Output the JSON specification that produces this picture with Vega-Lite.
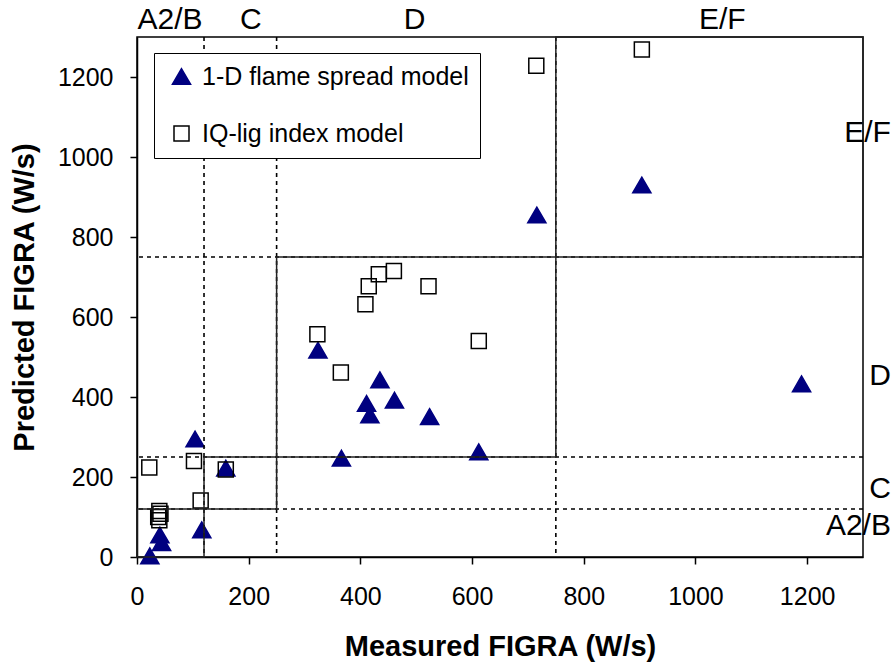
{
  "$schema": "https://vega.github.io/schema/vega-lite/v6.json",
  "width": 726,
  "height": 520,
  "autosize": {"type": "none"},
  "padding": {"left": 137, "top": 37, "right": 31, "bottom": 106},
  "config": {
    "font": "Liberation Sans",
    "view": {"stroke": "black", "strokeWidth": 1.5},
    "axis": {
      "domainColor": "black",
      "domainWidth": 1.5,
      "tickColor": "black",
      "tickWidth": 1.5,
      "labelColor": "black",
      "titleColor": "black",
      "grid": false,
      "labelFlush": false
    }
  },
  "datasets": {
    "points": [
      {"model": "1-D flame spread model", "measured": 23, "predicted": 3},
      {"model": "1-D flame spread model", "measured": 41, "predicted": 55},
      {"model": "1-D flame spread model", "measured": 44, "predicted": 36},
      {"model": "1-D flame spread model", "measured": 116, "predicted": 68},
      {"model": "1-D flame spread model", "measured": 104, "predicted": 295},
      {"model": "1-D flame spread model", "measured": 159, "predicted": 222},
      {"model": "1-D flame spread model", "measured": 324, "predicted": 517},
      {"model": "1-D flame spread model", "measured": 435, "predicted": 443},
      {"model": "1-D flame spread model", "measured": 411, "predicted": 384},
      {"model": "1-D flame spread model", "measured": 417, "predicted": 355},
      {"model": "1-D flame spread model", "measured": 461, "predicted": 392},
      {"model": "1-D flame spread model", "measured": 524, "predicted": 351},
      {"model": "1-D flame spread model", "measured": 366, "predicted": 247},
      {"model": "1-D flame spread model", "measured": 612, "predicted": 263},
      {"model": "1-D flame spread model", "measured": 716, "predicted": 855},
      {"model": "1-D flame spread model", "measured": 904, "predicted": 930},
      {"model": "1-D flame spread model", "measured": 1190, "predicted": 433},
      {"model": "IQ-lig index model", "measured": 22, "predicted": 224},
      {"model": "IQ-lig index model", "measured": 102, "predicted": 240},
      {"model": "IQ-lig index model", "measured": 159, "predicted": 219},
      {"model": "IQ-lig index model", "measured": 114, "predicted": 141},
      {"model": "IQ-lig index model", "measured": 40, "predicted": 115},
      {"model": "IQ-lig index model", "measured": 42, "predicted": 108},
      {"model": "IQ-lig index model", "measured": 38, "predicted": 100},
      {"model": "IQ-lig index model", "measured": 40, "predicted": 92},
      {"model": "IQ-lig index model", "measured": 460, "predicted": 715},
      {"model": "IQ-lig index model", "measured": 433, "predicted": 707},
      {"model": "IQ-lig index model", "measured": 415, "predicted": 677},
      {"model": "IQ-lig index model", "measured": 522, "predicted": 677},
      {"model": "IQ-lig index model", "measured": 409, "predicted": 632},
      {"model": "IQ-lig index model", "measured": 323, "predicted": 557},
      {"model": "IQ-lig index model", "measured": 365, "predicted": 461},
      {"model": "IQ-lig index model", "measured": 612, "predicted": 540},
      {"model": "IQ-lig index model", "measured": 715, "predicted": 1228},
      {"model": "IQ-lig index model", "measured": 904, "predicted": 1269}
    ],
    "limits": [{"v": 120}, {"v": 250}, {"v": 750}],
    "boxes": [
      {"lo": 0, "hi": 120},
      {"lo": 120, "hi": 250},
      {"lo": 250, "hi": 750},
      {"lo": 750, "hi": 1300}
    ],
    "topLabels": [
      {"label": "A2/B", "x": 59, "y": 1342},
      {"label": "C", "x": 204, "y": 1342},
      {"label": "D", "x": 497, "y": 1342},
      {"label": "E/F", "x": 1048, "y": 1342}
    ],
    "rightLabels": [
      {"label": "E/F", "x": 1350, "y": 1060},
      {"label": "D", "x": 1350, "y": 452},
      {"label": "C", "x": 1350, "y": 170},
      {"label": "A2/B", "x": 1350, "y": 78}
    ]
  },
  "layer": [
    {
      "data": {"name": "points"},
      "mark": {"type": "point", "strokeWidth": 1.5, "opacity": 1},
      "encoding": {
        "x": {
          "field": "measured", "type": "quantitative",
          "scale": {"domain": [0, 1300], "nice": false},
          "axis": {
            "values": [0, 200, 400, 600, 800, 1000, 1200],
            "format": "d",
            "title": "Measured FIGRA (W/s)",
            "titleFontSize": 29, "titleFontWeight": "bold",
            "labelFontSize": 25, "labelFontWeight": "normal",
            "tickSize": 7, "labelPadding": 20, "titlePadding": 23
          }
        },
        "y": {
          "field": "predicted", "type": "quantitative",
          "scale": {"domain": [0, 1300], "nice": false},
          "axis": {
            "values": [0, 200, 400, 600, 800, 1000, 1200],
            "format": "d",
            "title": "Predicted FIGRA (W/s)",
            "titleFontSize": 29, "titleFontWeight": "bold",
            "labelFontSize": 25, "labelFontWeight": "normal",
            "tickSize": 7, "labelPadding": 17, "titlePadding": 18
          }
        },
        "shape": {
          "field": "model", "type": "nominal",
          "scale": {"domain": ["1-D flame spread model", "IQ-lig index model"], "range": ["triangle-up", "square"]},
          "legend": {
            "title": null, "orient": "none", "legendX": 17, "legendY": 16,
            "strokeColor": "black", "fillColor": "white", "padding": 11,
            "labelFontSize": 25, "labelColor": "black", "labelOffset": 8, "labelLimit": 500,
            "symbolOffset": 4, "rowPadding": 31, "symbolStrokeWidth": 1.5, "symbolSize": 260
          }
        },
        "fill": {
          "field": "model", "type": "nominal",
          "scale": {"domain": ["1-D flame spread model", "IQ-lig index model"], "range": ["#000080", "transparent"]}
        },
        "stroke": {
          "field": "model", "type": "nominal",
          "scale": {"domain": ["1-D flame spread model", "IQ-lig index model"], "range": ["#000080", "black"]}
        },
        "size": {
          "field": "model", "type": "nominal",
          "scale": {"domain": ["1-D flame spread model", "IQ-lig index model"], "range": [330, 225]}
        }
      }
    },
    {
      "data": {"name": "limits"},
      "mark": {"type": "rule", "color": "black", "strokeWidth": 1.6, "strokeDash": [4, 4]},
      "encoding": {
        "x": {"field": "v", "type": "quantitative", "scale": {"domain": [0, 1300], "nice": false}}
      }
    },
    {
      "data": {"name": "limits"},
      "mark": {"type": "rule", "color": "black", "strokeWidth": 1.6, "strokeDash": [4, 4]},
      "encoding": {
        "y": {"field": "v", "type": "quantitative", "scale": {"domain": [0, 1300], "nice": false}}
      }
    },
    {
      "data": {"name": "boxes"},
      "mark": {"type": "rect", "fill": null, "fillOpacity": 0, "stroke": "#222222", "strokeWidth": 1.5},
      "encoding": {
        "x": {"field": "lo", "type": "quantitative", "scale": {"domain": [0, 1300], "nice": false}},
        "x2": {"field": "hi"},
        "y": {"field": "lo", "type": "quantitative", "scale": {"domain": [0, 1300], "nice": false}},
        "y2": {"field": "hi"}
      }
    },
    {
      "data": {"name": "topLabels"},
      "mark": {"type": "text", "fontSize": 30, "align": "center", "baseline": "middle", "color": "black"},
      "encoding": {
        "x": {"field": "x", "type": "quantitative", "scale": {"domain": [0, 1300], "nice": false}},
        "y": {"field": "y", "type": "quantitative", "scale": {"domain": [0, 1300], "nice": false}},
        "text": {"field": "label"}
      }
    },
    {
      "data": {"name": "rightLabels"},
      "mark": {"type": "text", "fontSize": 30, "align": "right", "baseline": "middle", "color": "black"},
      "encoding": {
        "x": {"field": "x", "type": "quantitative", "scale": {"domain": [0, 1300], "nice": false}},
        "y": {"field": "y", "type": "quantitative", "scale": {"domain": [0, 1300], "nice": false}},
        "text": {"field": "label"}
      }
    }
  ]
}
